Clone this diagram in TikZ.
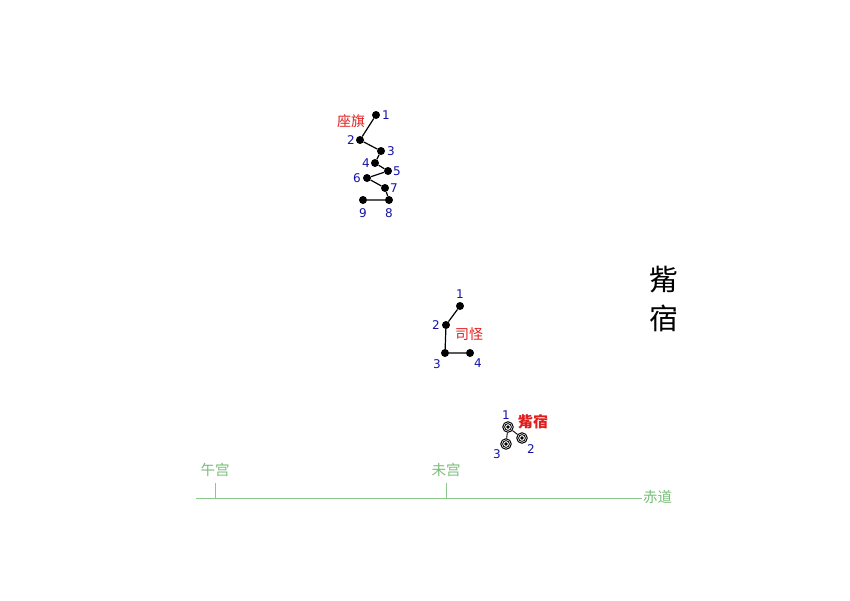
\documentclass[tikz,border=0pt]{standalone}
\usepackage{fontspec}
\setmainfont{DejaVu Sans}
\newfontfamily\cjk{Noto Sans CJK SC}
\definecolor{numblue}{RGB}{20,20,170}
\definecolor{starred}{RGB}{225,30,30}
\definecolor{eqgreen}{RGB}{140,200,140}
\definecolor{eqtext}{RGB}{120,190,120}
\tikzset{
  star/.style={circle,fill=black,inner sep=0pt,minimum size=8pt},
  ring/.style={circle,draw=black,line width=1pt,inner sep=0pt,minimum size=10.5pt,
     path picture={\fill[black] (path picture bounding box.center) circle (1.8pt);
                   \draw[black,line width=0.8pt] (path picture bounding box.center) circle (3.4pt);}},
  num/.style={text=numblue,font=\fontsize{12}{13}\selectfont,inner sep=0pt},
  cname/.style={text=starred,font=\cjk\fontsize{14}{15}\selectfont,inner sep=0pt},
  link/.style={black,line width=1.2pt},
  eq/.style={eqgreen,line width=0.9pt},
  eqlab/.style={text=eqtext,font=\cjk\fontsize{14.5}{15}\selectfont,inner sep=0pt},
}
\begin{document}
\begin{tikzpicture}[x=1pt,y=-1pt]
\useasboundingbox[fill=white] (0,0) rectangle (850,600);
% Zuoqi
\node[star] (z1) at (376,115) {};
\node[star] (z2) at (360,140) {};
\node[star] (z3) at (381,151) {};
\node[star] (z4) at (375,163) {};
\node[star] (z5) at (388,171) {};
\node[star] (z6) at (367,178) {};
\node[star] (z7) at (385,188) {};
\node[star] (z8) at (389,200) {};
\node[star] (z9) at (363,200) {};
\draw[link] (z1)--(z2)--(z3)--(z4)--(z5)--(z6)--(z7)--(z8)--(z9);
\node[num] (zl1) at (386,115) {1};
\node[num] (zl2) at (351,140) {2};
\node[num] (zl3) at (391,151) {3};
\node[num] (zl4) at (366,163) {4};
\node[num] (zl5) at (397,171) {5};
\node[num] (zl6) at (357,178) {6};
\node[num] (zl7) at (394,188) {7};
\node[num] (zl8) at (389,213) {8};
\node[num] (zl9) at (363,213) {9};
\node[cname] (zname) at (351,121) {座旗};
% Sigua
\node[star] (s1) at (460,306) {};
\node[star] (s2) at (446,325) {};
\node[star] (s3) at (445,353) {};
\node[star] (s4) at (470,353) {};
\draw[link] (s1)--(s2)--(s3)--(s4);
\node[num] (sl1) at (460,294) {1};
\node[num] (sl2) at (436,325) {2};
\node[num] (sl3) at (437,364) {3};
\node[num] (sl4) at (478,363) {4};
\node[cname] (sname) at (469,334) {司怪};
% Zuixiu
\node[ring] (x1) at (508,427) {};
\node[ring] (x2) at (522,438) {};
\node[ring] (x3) at (506,444) {};
\draw[black,line width=0.9pt] (x1)--(x2) (x1)--(x3);
\node[num] (xl1) at (506,415) {1};
\node[num] (xl2) at (531,449) {2};
\node[num] (xl3) at (497,454) {3};
\node[cname,font=\cjk\bfseries\fontsize{15}{16}\selectfont] (xname) at (533,422) {觜宿};
% equator
\coordinate (e0) at (196,498);
\coordinate (e1) at (642,498);
\coordinate (t1) at (215,483);
\coordinate (t1b) at (215,498);
\coordinate (t2) at (446,483);
\coordinate (t2b) at (446,498);
\draw[eq] (e0)--(e1);
\draw[eq] (t1)--(t1b);
\draw[eq] (t2)--(t2b);
\node[eqlab] (wu) at (215,470) {午宫};
\node[eqlab] (wei) at (446,470) {未宫};
\node[eqlab,anchor=west] (chidao) at (643,497) {赤道};
% big title
\node[font=\cjk\fontsize{29}{30}\selectfont,inner sep=0pt] (bt1) at (664,280) {觜};
\node[font=\cjk\fontsize{29}{30}\selectfont,inner sep=0pt] (bt2) at (664,318) {宿};
\end{tikzpicture}
\end{document}
